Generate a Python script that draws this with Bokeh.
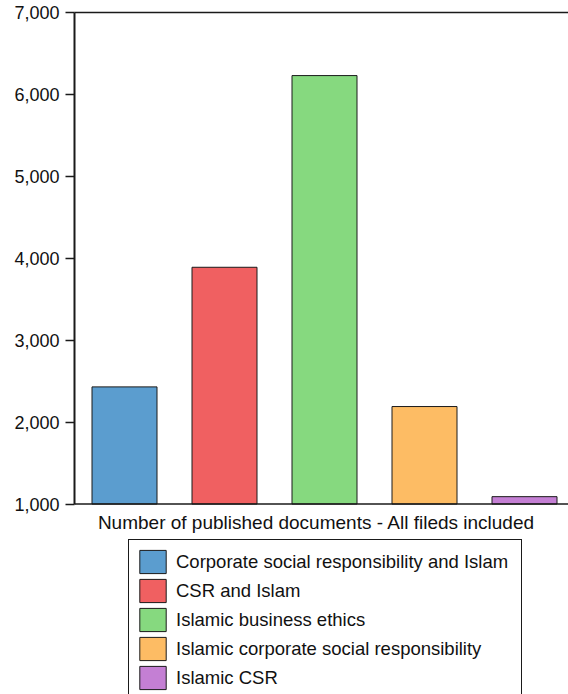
from bokeh.plotting import figure
from bokeh.models import (ColumnDataSource, Range1d, FixedTicker, NumeralTickFormatter,
                          LinearAxis, Legend, LegendItem, Span, Label)
from bokeh.core.properties import field
from bokeh.embed import file_html
from bokeh.resources import INLINE

# Number of published documents per search term (all fields included)
categories = [
    "Corporate social responsibility and Islam",
    "CSR and Islam",
    "Islamic business ethics",
    "Islamic corporate social responsibility",
    "Islamic CSR",
]
documents = [2430, 3890, 6230, 2190, 1090]
colors = ["#5B9DCF", "#F06061", "#86D97F", "#FDBC64", "#C47FD4"]
y_ticks = [1000, 2000, 3000, 4000, 5000, 6000, 7000]
x_title = "Number of published documents - All fileds included"

FONT = "Liberation Sans"
INK = "#1a1a1a"
BASE = 1000     # value axis starts here
TOP = 7000

source = ColumnDataSource(dict(
    x=[i + 0.5 for i in range(len(categories))],
    top=documents,
    category=categories,
    color=colors,
))

# the frame runs to the bottom of the page so the legend can sit under the bars
p = figure(width=568, height=694, output_backend="svg", toolbar_location=None,
           x_range=Range1d(0, 4.94), y_range=Range1d(-1325, TOP),
           x_axis_location=None,
           min_border_left=74, min_border_right=0, min_border_top=12,
           min_border_bottom=0,
           background_fill_color="white", border_fill_color="white")
p.outline_line_color = None
p.grid.visible = False

bars = p.vbar(x="x", top="top", bottom=BASE, width=0.65, source=source,
              fill_color="color", line_color=INK, line_width=1)

# y axis
ya = p.yaxis[0]
ya.bounds = (BASE, TOP)
ya.ticker = FixedTicker(ticks=y_ticks)
ya.formatter = NumeralTickFormatter(format="0,0")
ya.major_label_text_font = FONT
ya.major_label_text_font_size = "18px"
ya.major_label_text_color = "#111111"
ya.axis_line_color = INK
ya.axis_line_width = 2
ya.major_tick_line_color = INK
ya.major_tick_line_width = 1.5
ya.major_tick_in = 0
ya.major_tick_out = 9
ya.minor_tick_line_color = None
ya.major_label_standoff = 6

# baseline of the bars
p.add_layout(Span(location=BASE, dimension="width", line_color=INK, line_width=1.5))

# top frame line
top_axis = LinearAxis(ticker=FixedTicker(ticks=[]), major_label_text_font_size="0px",
                      major_tick_line_color=None, minor_tick_line_color=None,
                      axis_line_color=INK, axis_line_width=1.5)
p.add_layout(top_axis, "above")

# category axis title
p.add_layout(Label(x=2.42, y=BASE, y_offset=-8, text=x_title,
                   text_align="center", text_baseline="top",
                   text_font=FONT, text_font_size="19px", text_color="#111111"))

# legend under the chart
leg = Legend(items=[LegendItem(label=field("category"), renderers=[bars])],
             location=(54, -6), orientation="vertical",
             border_line_color=INK, border_line_width=1, border_line_alpha=1,
             background_fill_color="white", background_fill_alpha=1,
             label_text_font=FONT, label_text_font_size="18.5px",
             label_text_color="#111111",
             glyph_width=33, glyph_height=29, label_height=29, label_width=338,
             label_standoff=7, spacing=0, padding=7, margin=0)
p.add_layout(leg, "center")

open("out.html", "w").write(file_html(p, INLINE))
